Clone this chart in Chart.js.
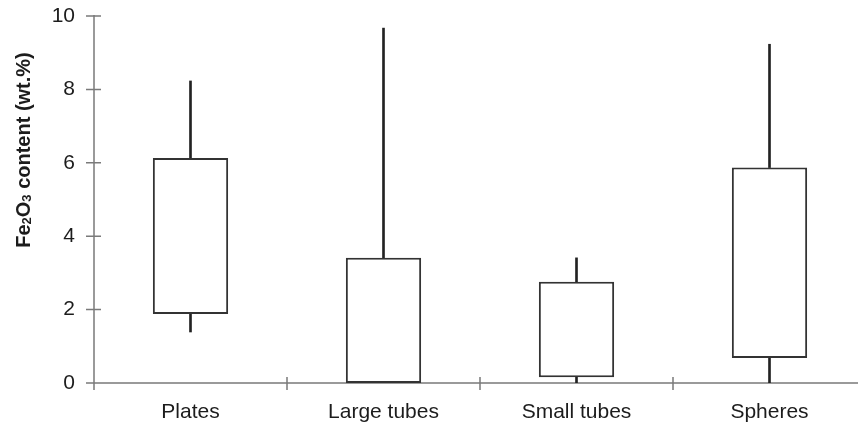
<!DOCTYPE html>
<html>
<head>
<meta charset="utf-8">
<script src="https://cdn.jsdelivr.net/npm/chart.js@4.4.0/dist/chart.umd.min.js"></script>
<style>
  html, body { margin: 0; padding: 0; background: #fff; overflow: hidden; }
  #wrap { width: 866px; height: 435px; }
</style>
</head>
<body>
<div id="wrap"><canvas id="boxChart"></canvas></div>
<script>
// values (wt.%)
const categories = ['Plates', 'Large tubes', 'Small tubes', 'Spheres']
const whiskerLow = [1.39, 0, 0, 0]
const boxLow = [1.88, 0, 0.16, 0.68]
const boxHigh = [6.13, 3.41, 2.76, 5.87]
const whiskerHigh = [8.23, 9.67, 3.41, 9.23]
const yTicks = [0, 2, 4, 6, 8, 10]

const lineColor = '#222'
const axisColor = '#7a7a7a'
const textColor = '#1c1c1c'
const fontFamily = '"Liberation Sans", Arial, sans-serif'

// axis lines, crossing tick marks and the y title with subscripts
const axesPlugin = {
    id: 'axesPlugin',
    beforeDatasetsDraw(chart) {
        const ctx = chart.ctx
        const x = chart.scales.x
        const y = chart.scales.y
        const area = chart.chartArea
        ctx.save()
        ctx.strokeStyle = axisColor
        ctx.lineWidth = 1.5
        ctx.beginPath()
        ctx.moveTo(area.left, y.getPixelForValue(10) - 1)
        ctx.lineTo(area.left, area.bottom + 7)
        ctx.moveTo(area.left, area.bottom)
        ctx.lineTo(area.right, area.bottom)
        yTicks.forEach(function (v) {
            let py = y.getPixelForValue(v)
            ctx.moveTo(area.left - 8, py)
            ctx.lineTo(area.left + 7, py)
        })
        let step = x.getPixelForValue(1) - x.getPixelForValue(0)
        for (let i = 1; i <= categories.length; i++) {
            let px = x.getPixelForValue(i) - step / 2
            ctx.moveTo(px, area.bottom - 6)
            ctx.lineTo(px, area.bottom + 7)
        }
        ctx.stroke()

        // y axis title: Fe2O3 content (wt.%)
        const parts = [
            { t: 'Fe', s: 20, dy: 0 },
            { t: '2', s: 13, dy: 1 },
            { t: 'O', s: 20, dy: 0 },
            { t: '3', s: 13, dy: 1 },
            { t: ' content (wt.%)', s: 20, dy: 0 }
        ]
        let total = 0
        parts.forEach(function (p) {
            ctx.font = 'bold ' + p.s + 'px ' + fontFamily
            p.w = ctx.measureText(p.t).width
            total += p.w
        })
        ctx.translate(30, 150)
        ctx.rotate(-Math.PI / 2)
        ctx.fillStyle = textColor
        ctx.textBaseline = 'alphabetic'
        let cx = -total / 2
        parts.forEach(function (p) {
            ctx.font = 'bold ' + p.s + 'px ' + fontFamily
            ctx.fillText(p.t, cx, p.dy)
            cx += p.w
        })
        ctx.restore()
    }
}

function pairs(a, b) {
    return a.map(function (v, i) { return [v, b[i]] })
}

new Chart(document.getElementById('boxChart'), {
    type: 'bar',
    data: {
        labels: categories,
        datasets: [
            {
                label: 'upper whisker',
                data: pairs(boxHigh, whiskerHigh),
                backgroundColor: lineColor,
                borderWidth: 0,
                barThickness: 2,
                grouped: false,
                order: 2
            },
            {
                label: 'lower whisker',
                data: pairs(whiskerLow, boxLow),
                backgroundColor: lineColor,
                borderWidth: 0,
                barThickness: 2,
                grouped: false,
                order: 2
            },
            {
                label: 'box',
                data: pairs(boxLow, boxHigh),
                backgroundColor: '#ffffff',
                borderColor: '#333',
                borderWidth: 2,
                borderSkipped: false,
                barPercentage: 0.39,
                categoryPercentage: 1,
                grouped: false,
                order: 1
            }
        ]
    },
    plugins: [axesPlugin],
    options: {
        responsive: true,
        maintainAspectRatio: false,
        animation: false,
        layout: { padding: { top: 16, right: 0, left: 0, bottom: 0 } },
        plugins: {
            legend: { display: false },
            tooltip: { enabled: false }
        },
        scales: {
            x: {
                offset: true,
                grid: { display: false, drawTicks: false },
                border: { display: false },
                ticks: {
                    color: textColor,
                    padding: 17,
                    font: { family: fontFamily, size: 21 }
                },
                afterFit: function (scale) {
                    scale.height = 52
                    scale.paddingLeft = 0
                    scale.paddingRight = 0
                }
            },
            y: {
                min: 0,
                max: 10,
                grid: { display: false, drawTicks: false },
                border: { display: false },
                ticks: {
                    stepSize: 2,
                    color: textColor,
                    padding: 19,
                    font: { family: fontFamily, size: 21 }
                },
                afterFit: function (scale) {
                    scale.width = 94
                    scale.paddingTop = 0
                    scale.paddingBottom = 0
                }
            }
        }
    }
})
</script>
</body>
</html>
